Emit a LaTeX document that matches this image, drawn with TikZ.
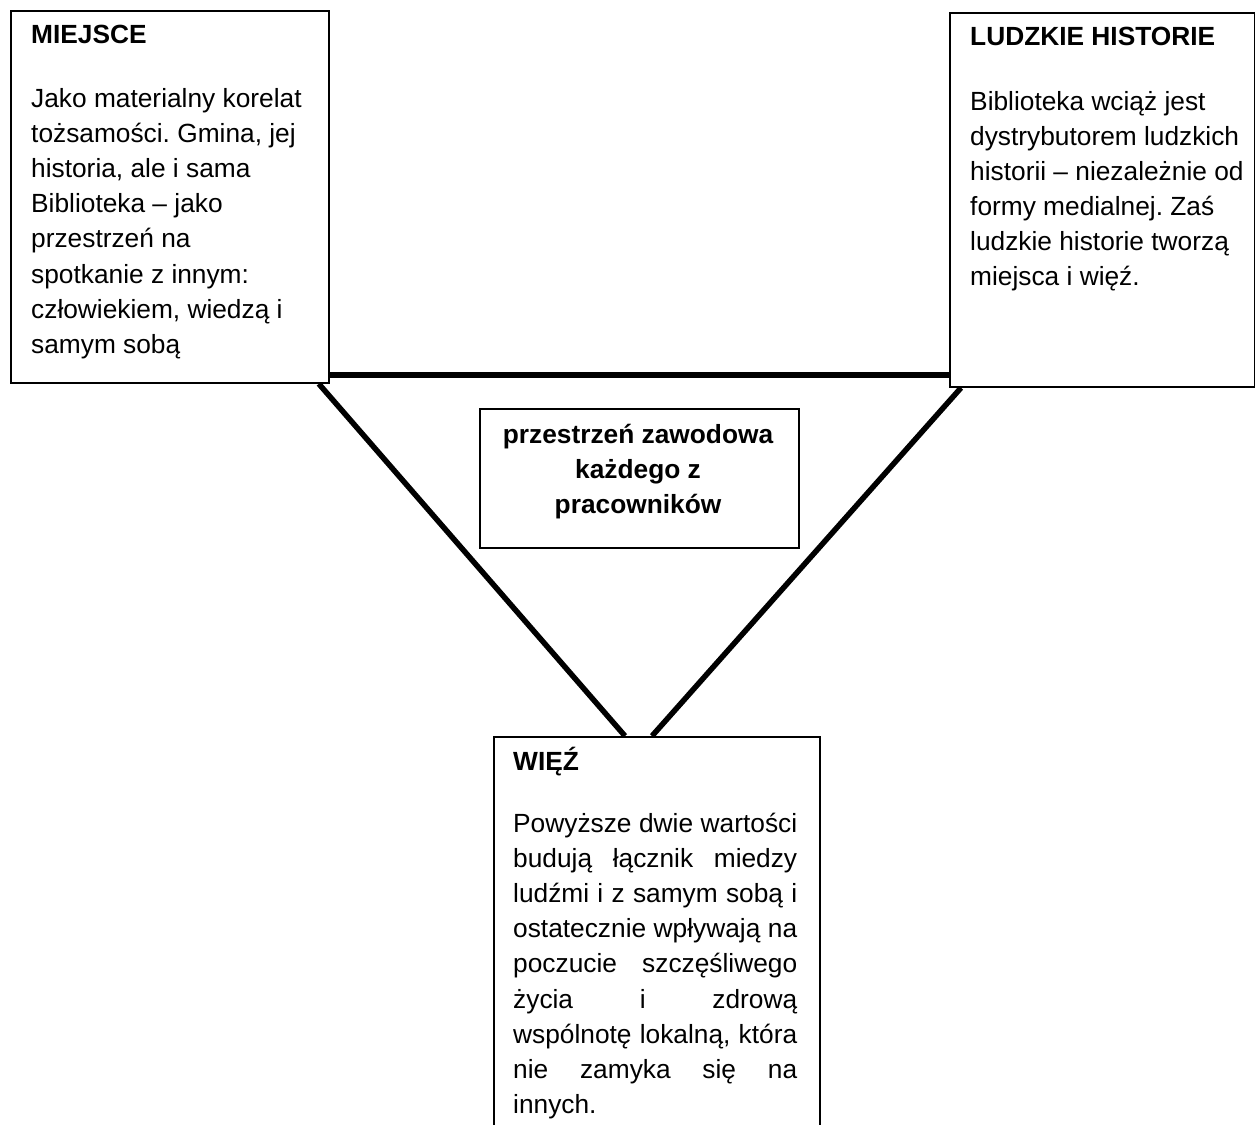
\documentclass[tikz,border=0pt]{standalone}
\usepackage{fontspec}
\setmainfont{Liberation Sans}
\usetikzlibrary{calc}
\pgfdeclarelayer{bg}
\pgfsetlayers{bg,main}
\tikzset{
  box/.style={draw=black, line width=1.8pt, fill=white, rectangle, inner sep=0pt, anchor=north west},
  conn/.style={line width=5.5pt, draw=black},
  txt/.style={inner sep=0pt, anchor=base west, font=\fontsize{26.3}{35.2}\selectfont\frenchspacing},
  head/.style={txt, font=\fontsize{26.3}{35.2}\selectfont\frenchspacing\bfseries},
}
\begin{document}
\begin{tikzpicture}[x=1pt,y=-1pt]
\clip (0,0) rectangle (1255,1124);
% boxes
\node[box, minimum width=318pt, minimum height=372pt] (miejsce) at (10,10) {};
\node[box, minimum width=305pt, minimum height=374pt] (ludzkie) at (949,12) {};
\node[box, minimum width=319pt, minimum height=139pt] (centre) at (479,408) {};
\node[box, minimum width=326pt, minimum height=420pt] (wiez) at (493,736) {};
% connectors
\begin{pgfonlayer}{bg}
\draw[conn] ($(miejsce.south east)+(0,-9)$) -- ($(ludzkie.south west)+(0,-13)$);
\draw[conn] ($(miejsce.south east)+(-11,0)$) -- ($(wiez.north west)+(132,0)$);
\draw[conn] ($(ludzkie.south west)+(12,0)$) -- ($(wiez.north west)+(159,0)$);
\end{pgfonlayer}
% texts
\node[head] (t1h) at (31,44) {MIEJSCE};
\node[txt] (t1b) at (31,107) {\vtop{%
  \hbox{Jako materialny korelat}
  \hbox{tożsamości. Gmina, jej}
  \hbox{historia, ale i sama}
  \hbox{Biblioteka – jako}
  \hbox{przestrzeń na}
  \hbox{spotkanie z innym:}
  \hbox{człowiekiem, wiedzą i}
  \hbox{samym sobą}}};
\node[head] (t2h) at (970,46) {LUDZKIE HISTORIE};
\node[txt] (t2b) at (970,110) {\vtop{%
  \hbox{Biblioteka wciąż jest}
  \hbox{dystrybutorem ludzkich}
  \hbox{historii – niezależnie od}
  \hbox{formy medialnej. Zaś}
  \hbox{ludzkie historie tworzą}
  \hbox{miejsca i więź.}}};
\node[head, anchor=base] (t3) at (638,443) {\vtop{%
  \hbox to 320pt{\hss przestrzeń zawodowa\hss}
  \hbox to 320pt{\hss każdego z\hss}
  \hbox to 320pt{\hss pracowników\hss}}};
\node[head] (t4h) at (513,770) {WIĘŹ};
\node[txt] (t4b) at (513,832) {\vtop{%
  \hbox to 284pt{Powyższe dwie wartości}
  \hbox to 284pt{budują łącznik miedzy}
  \hbox to 284pt{ludźmi i z samym sobą i}
  \hbox to 284pt{ostatecznie wpływają na}
  \hbox to 284pt{poczucie szczęśliwego}
  \hbox to 284pt{życia i zdrową}
  \hbox to 284pt{wspólnotę lokalną, która}
  \hbox to 284pt{nie zamyka się na}
  \hbox{innych.}}};
\end{tikzpicture}
\end{document}
